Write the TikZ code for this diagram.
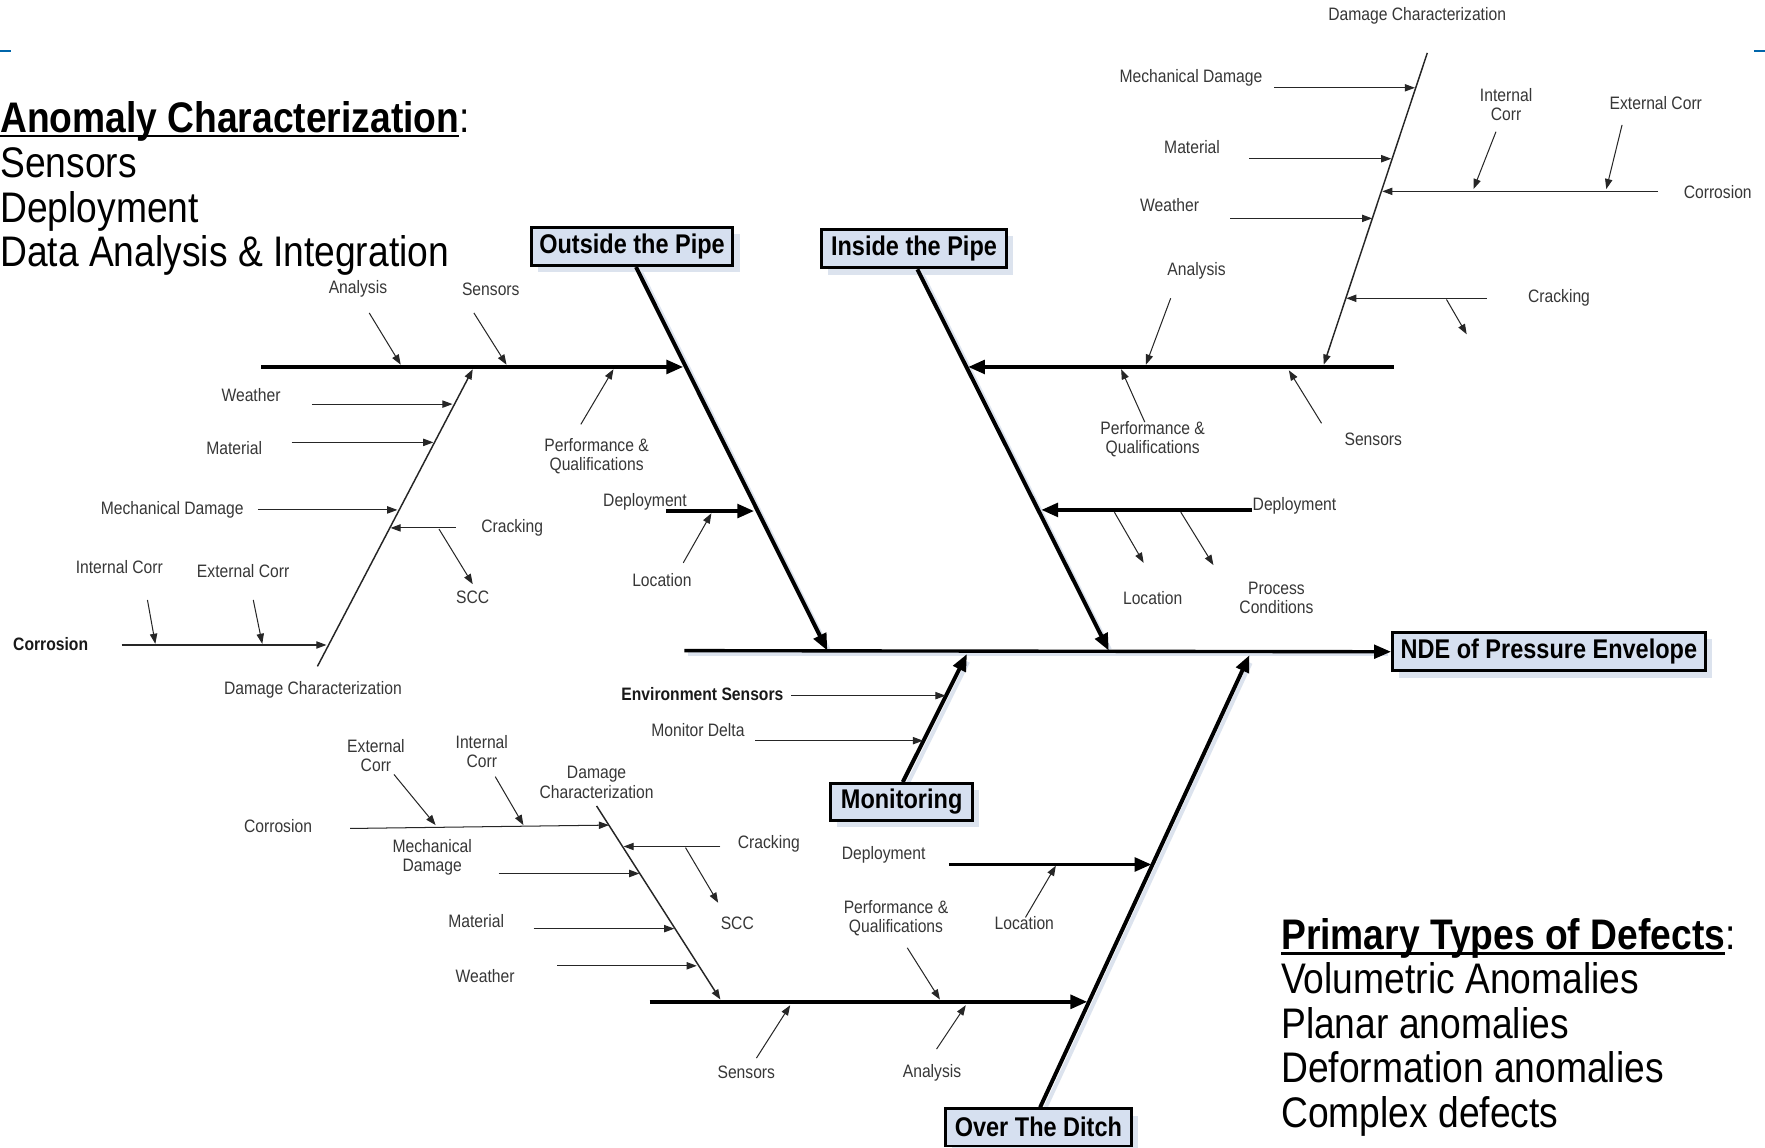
\documentclass[tikz,border=0pt]{standalone}
\usepackage{fontspec}
\setmainfont{Liberation Sans}[FakeStretch=0.87]
\usetikzlibrary{arrows.meta,shadows}
\definecolor{boxfill}{RGB}{214,224,240}
\definecolor{shadec}{RGB}{220,227,238}
\definecolor{tickc}{RGB}{0,102,170}
\definecolor{lblc}{RGB}{55,55,55}
\newcommand\myul[1]{\setbox0\hbox{#1}\rlap{\copy0}\rule[-4.5pt]{\wd0}{2.4pt}}
\begin{document}
\begin{tikzpicture}[x=1pt,y=-1pt,
  lab/.style={font=\fontsize{16}{17}\selectfont, text=lblc, align=center, inner sep=0pt},
  labb/.style={font=\fontsize{16}{17}\selectfont\bfseries, text=black!90, align=center, inner sep=0pt},
  bigtxt/.style={font=\fontsize{38}{40}\selectfont, anchor=base west, inner sep=0pt},
  tbox/.style={draw=black, line width=2.5pt, fill=boxfill, font=\fontsize{24}{26}\selectfont\bfseries,
    inner sep=0pt, minimum height=34pt,
    drop shadow={shadow xshift=6pt, shadow yshift=-6pt, fill=shadec, opacity=1}},
  thinar/.style={draw=black!85, line width=0.9pt, -{Triangle[length=9pt,width=6.5pt]}},
  dcar/.style={thinar, line width=1.3pt},
  bonear/.style={draw=black, line width=3.5pt, -{Triangle[length=15pt,width=12pt]}},
  boneshadow/.style={draw=shadec, line width=3.5pt}
]
\useasboundingbox (0,0) rectangle (1568,1019);
\fill[white] (0,0) rectangle (1568,1019);

% blue ticks
\draw[tickc, line width=2pt] (0,45) -- (10,45);
\draw[tickc, line width=2pt] (1558,45) -- (1568,45);

% ---------- text blocks ----------
\node[bigtxt] (anomT) at (0,117.5) {\myul{\bfseries Anomaly Characterization}:};
\node[bigtxt] (anom1) at (0,158) {Sensors};
\node[bigtxt] (anom2) at (0,197.5) {Deployment};
\node[bigtxt] (anom3) at (0,237) {Data Analysis \& Integration};

\node[bigtxt] (primT) at (1138,843.5) {\myul{\bfseries Primary Types of Defects}:};
\node[bigtxt] (prim1) at (1138,883) {Volumetric Anomalies};
\node[bigtxt] (prim2) at (1138,922.5) {Planar anomalies};
\node[bigtxt] (prim3) at (1138,962) {Deformation anomalies};
\node[bigtxt] (prim4) at (1138,1001.5) {Complex defects};

% ---------- line shadows ----------
\begin{scope}[shift={(3,3)}]
\draw[boneshadow] (608,578) -- (1230,578);
\draw[boneshadow] (565,236) -- (733,574);
\draw[boneshadow] (815,238) -- (983,574);
\draw[boneshadow] (802,696) -- (857,585);
\draw[boneshadow] (924,985) -- (1108,586);
\end{scope}

% ---------- title boxes ----------
\node[tbox, minimum width=179pt] (outside) at (561.5,219) {Outside the Pipe};
\node[tbox, minimum width=164pt] (inside) at (812,221) {Inside the Pipe};
\node[tbox, minimum width=278pt] (nde) at (1376,579) {NDE of Pressure Envelope};
\node[tbox, minimum width=126pt, minimum height=33pt] (monit) at (801,712.5) {Monitoring};
\node[tbox, minimum width=165pt, minimum height=33pt] (ditch) at (922.5,1001.5) {Over The Ditch};

% ---------- spine and main bones ----------
\coordinate (spineS) at (608,578);
\coordinate (jO) at (735,578);
\coordinate (jI) at (985,578);
\coordinate (jM) at (859,581);
\coordinate (jD) at (1110,582);
\draw[bonear, line width=3pt] (spineS) -- (nde.west);
\draw[bonear] ([xshift=3.5pt]outside.south) -- (jO);
\draw[bonear] ([xshift=3pt]inside.south) -- (jI);
\draw[bonear] ([xshift=1pt]monit.north) -- (jM);
\draw[bonear] ([xshift=1.5pt]ditch.north) -- (jD);

% ================= OUTSIDE THE PIPE =================
\draw[bonear] (232,326) -- (607,326);
\draw[bonear] (592,454) -- (670,454);
\node[lab] (oAna) at (318,257) {Analysis};
\node[lab] (oSen) at (436,257) {Sensors};
\node[lab] (oPerf) at (530,405) {Performance \&\\Qualifications};
\node[lab] (oDep) at (573,446) {Deployment};
\node[lab] (oLoc) at (588,515) {Location};
\node[lab] (oWea) at (223,351) {Weather};
\node[lab] (oMat) at (208,398) {Material};
\node[lab] (oMech) at (153,453) {Mechanical Damage};
\node[lab] (oCrack) at (455,469) {Cracking};
\node[lab] (oSCC) at (420,531) {SCC};
\node[lab] (oInt) at (106,504) {Internal Corr};
\node[lab] (oExt) at (216,507) {External Corr};
\node[labb] (oCorr) at (45,572) {Corrosion};
\node[lab] (oDam) at (278,613) {Damage Characterization};

\draw[thinar] (328,278) -- (356,324);
\draw[thinar] (421,278) -- (450,324);
\draw[thinar] (516,377) -- (545,328);
\draw[thinar] (607,500) -- (632,456);
\draw[dcar] (282,592) -- (420,328);
\draw[thinar] (277,359) -- (402,359);
\draw[thinar] (259,393) -- (385,393);
\draw[thinar] (229,453) -- (353,453);
\draw[thinar] (405,469) -- (347,469);
\draw[thinar] (390,470) -- (420,519);
\draw[thinar] (108,573) -- (290,573);
\draw[thinar] (131,533) -- (138,572);
\draw[thinar] (225,533) -- (233,572);

% ================= INSIDE THE PIPE =================
\draw[bonear] (1238,326) -- (860,326);
\draw[bonear] (1112,453) -- (925,453);
\node[lab] (iDam) at (1259,14) {Damage Characterization};
\node[lab] (iMech) at (1058,69) {Mechanical Damage};
\node[lab] (iMat) at (1059,131) {Material};
\node[lab] (iWea) at (1039,182) {Weather};
\node[lab] (iInt) at (1338,93) {Internal\\Corr};
\node[lab] (iExt) at (1471,92) {External Corr};
\node[lab] (iCorr) at (1526,171) {Corrosion};
\node[lab] (iAna) at (1063,241) {Analysis};
\node[lab] (iCrack) at (1385,265) {Cracking};
\node[lab] (iPerf) at (1024,390) {Performance \&\\Qualifications};
\node[lab] (iSen) at (1220,390) {Sensors};
\node[lab] (iDep) at (1150,449) {Deployment};
\node[lab] (iLoc) at (1024,531) {Location};
\node[lab] (iProc) at (1134,531) {Process\\Conditions};

\draw[dcar] (1268,47) -- (1176,324);
\draw[thinar] (1132,78) -- (1257,78);
\draw[thinar] (1110,141) -- (1236,141);
\draw[thinar] (1093,194) -- (1219,194);
\draw[thinar] (1473,170) -- (1228,170);
\draw[thinar] (1329,117) -- (1309,168);
\draw[thinar] (1441,111) -- (1427,168);
\draw[thinar] (1321,265) -- (1196,265);
\draw[thinar] (1285,266) -- (1303,297);
\draw[thinar] (1040,265) -- (1018,324);
\draw[thinar] (1017,375) -- (996,328);
\draw[thinar] (1174,376) -- (1145,329);
\draw[thinar] (990,455) -- (1016,500);
\draw[thinar] (1049,455) -- (1078,502);

% ================= MONITORING =================
\node[labb] (mEnv) at (624,617) {Environment Sensors};
\node[lab] (mDel) at (620,649) {Monitor Delta};
\draw[thinar] (703,618) -- (840,618);
\draw[thinar] (671,658) -- (820,658);

% ================= OVER THE DITCH =================
\draw[bonear] (843,768) -- (1023,768);
\draw[bonear] (577,890) -- (966,890);
\node[lab] (dDam) at (530,695) {Damage\\Characterization};
\node[lab] (dExt) at (334,671) {External\\Corr};
\node[lab] (dInt) at (428,668) {Internal\\Corr};
\node[lab] (dCorr) at (247,734) {Corrosion};
\node[lab] (dMech) at (384,762) {Mechanical\\Damage};
\node[lab] (dCrack) at (683,750) {Cracking};
\node[lab] (dSCC) at (655,820) {SCC};
\node[lab] (dMat) at (423,818) {Material};
\node[lab] (dWea) at (431,867) {Weather};
\node[lab] (dDep) at (785,759) {Deployment};
\node[lab] (dPerf) at (796,816) {Performance \&\\Qualifications};
\node[lab] (dLoc) at (910,820) {Location};
\node[lab] (dSen) at (663,953) {Sensors};
\node[lab] (dAna) at (828,953) {Analysis};

\draw[dcar] (530,716) -- (640,888);
\draw[thinar] (311,736) -- (541,733);
\draw[thinar] (350,688) -- (387,733);
\draw[thinar] (440,690) -- (465,733);
\draw[thinar] (443,776) -- (568,776);
\draw[thinar] (640,752) -- (554,752);
\draw[thinar] (609,753) -- (638,802);
\draw[thinar] (474,825) -- (599,825);
\draw[thinar] (495,858) -- (619,858);
\draw[thinar] (911,815) -- (938,769);
\draw[thinar] (806,842) -- (835,888);
\draw[thinar] (832,932) -- (858,893);
\draw[thinar] (672,940) -- (702,893);
\end{tikzpicture}
\end{document}
